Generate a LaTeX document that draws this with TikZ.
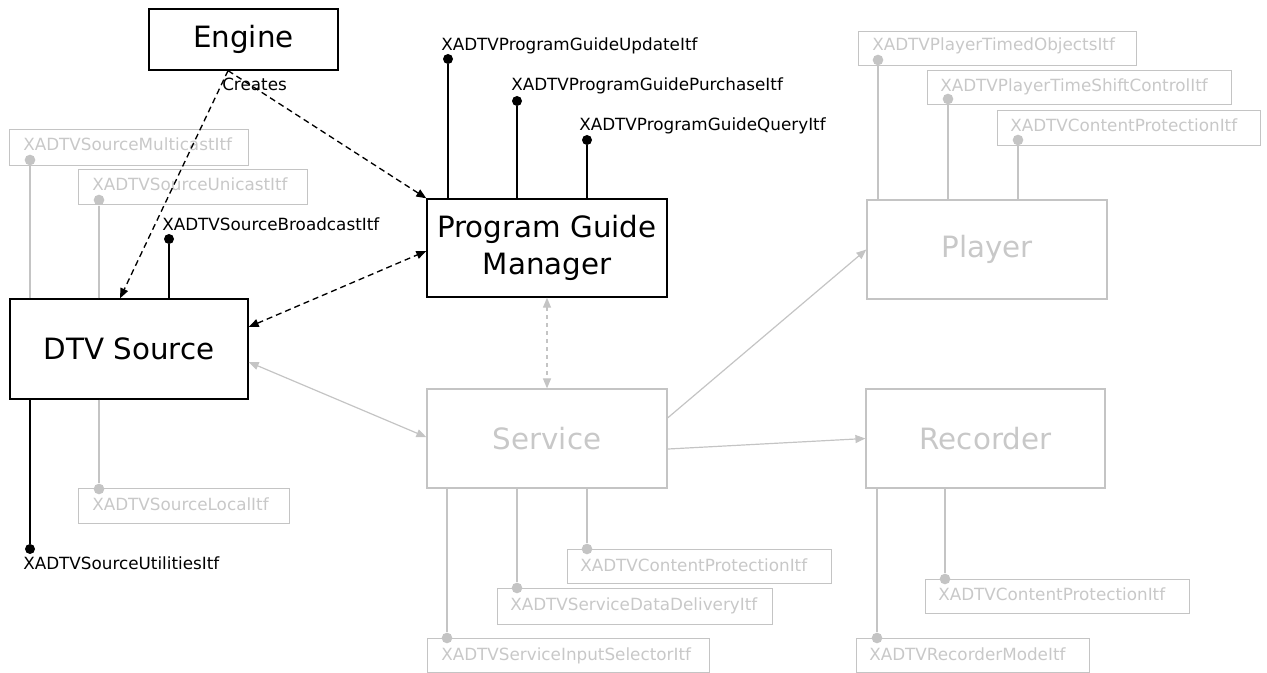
\documentclass[tikz,border=0pt]{standalone}
\usepackage{fontspec}
\setmainfont{DejaVu Sans}
\usetikzlibrary{arrows.meta}
\definecolor{lg}{RGB}{196,196,196}
\definecolor{lgt}{RGB}{200,200,200}
\begin{document}
\begin{tikzpicture}[x=0.75pt,y=-0.75pt,
 comp/.style={draw=black, line width=1pt, rectangle, inner sep=0pt, font=\fontsize{22}{27.5}\selectfont, align=center},
 gcomp/.style={comp, draw=lg, text=lgt, line width=0.9pt},
 ifbox/.style={draw=lg, line width=0.8pt, rectangle, inner sep=0pt, anchor=north west, minimum height=25.5pt},
 lbl/.style={font=\fontsize{12.6}{14}\selectfont, inner sep=0pt, anchor=base west},
 glbl/.style={lbl, text=lgt},
 ball/.style={circle, fill=black, inner sep=0pt, minimum size=7.5pt},
 gball/.style={circle, fill=lg, inner sep=0pt, minimum size=8pt},
 bl/.style={draw=black, line width=1pt},
 gl/.style={draw=lg, line width=0.9pt},
 darr/.style={bl, dash pattern=on 4.5pt off 3pt},
 >={Triangle[length=7.5pt,width=6pt]}
]
\useasboundingbox (0,0) rectangle (1267,673);

% main components
\node[comp, minimum width=141.75pt, minimum height=45.75pt] (eng) at (243.5,39.5) {Engine};
\node[comp, minimum width=178.5pt, minimum height=75pt] (dtv) at (129,349) {DTV Source};
\node[comp, minimum width=180pt, minimum height=73.5pt] (pgm) at (547,248) {Program Guide\\Manager};
\node[gcomp, minimum width=180pt, minimum height=74.25pt] (svc) at (547,438.5) {Service};
\node[gcomp, minimum width=180pt, minimum height=74.25pt] (ply) at (987,249.5) {Player};
\node[gcomp, minimum width=179.25pt, minimum height=74.25pt] (rec) at (985.5,438.5) {Recorder};

% gray interface boxes
\node[ifbox, minimum width=179.25pt, minimum height=27pt] (b1) at (9,129) {};
\node[ifbox, minimum width=171.75pt, minimum height=26.25pt] (b2) at (78,169) {};
\node[ifbox, minimum width=158.25pt, minimum height=26.25pt] (b3) at (78,488) {};
\node[ifbox, minimum width=208.5pt] (b4) at (858,31) {};
\node[ifbox, minimum width=228pt] (b5) at (927,70) {};
\node[ifbox, minimum width=197.25pt, minimum height=26.25pt] (b6) at (997,110) {};
\node[ifbox, minimum width=198pt] (b7) at (567,549) {};
\node[ifbox, minimum width=206.25pt, minimum height=27pt] (b8) at (497,588) {};
\node[ifbox, minimum width=211.5pt] (b9) at (427,638) {};
\node[ifbox, minimum width=198pt] (b10) at (925,579) {};
\node[ifbox, minimum width=174.75pt] (b11) at (856,638) {};

% gray balls
\node[gball] (g1) at (30,160) {};
\node[gball] (g2) at (99,200) {};
\node[gball] (g3) at (99,489) {};
\node[gball] (g4) at (878,60) {};
\node[gball] (g5) at (948,99) {};
\node[gball] (g6) at (1018,140) {};
\node[gball] (g7) at (587,549) {};
\node[gball] (g8) at (517,588) {};
\node[gball] (g9) at (447,638) {};
\node[gball] (g10) at (945,579) {};
\node[gball] (g11) at (877,638) {};

\draw[gl] (dtv.north -| g1) -- (g1);
\draw[gl] (dtv.north -| g2) -- (g2);
\draw[gl] (dtv.south -| g3) -- (g3);
\draw[gl] (ply.north -| g4) -- (g4);
\draw[gl] (ply.north -| g5) -- (g5);
\draw[gl] (ply.north -| g6) -- (g6);
\draw[gl] (svc.south -| g7) -- (g7);
\draw[gl] (svc.south -| g8) -- (g8);
\draw[gl] (svc.south -| g9) -- (g9);
\draw[gl] (rec.south -| g10) -- (g10);
\draw[gl] (rec.south -| g11) -- (g11);

% gray labels
\node[glbl] (t1) at (23,151) {XADTVSourceMulticastItf};
\node[glbl] (t2) at (92,191) {XADTVSourceUnicastItf};
\node[glbl] (t3) at (92,510) {XADTVSourceLocalItf};
\node[glbl] (t4) at (872,51) {XADTVPlayerTimedObjectsItf};
\node[glbl] (t5) at (940,92) {XADTVPlayerTimeShiftControlItf};
\node[glbl] (t6) at (1010,132) {XADTVContentProtectionItf};
\node[glbl] (t7) at (580,571) {XADTVContentProtectionItf};
\node[glbl] (t8) at (510,610) {XADTVServiceDataDeliveryItf};
\node[glbl] (t9) at (441,660) {XADTVServiceInputSelectorItf};
\node[glbl] (t10) at (938,600) {XADTVContentProtectionItf};
\node[glbl] (t11) at (869,660) {XADTVRecorderModeItf};

% black lollipops
\node[ball] (pu) at (448,59) {};
\node[ball] (pp) at (517,101) {};
\node[ball] (pq) at (587,140) {};
\node[ball] (sb) at (169,239) {};
\node[ball] (su) at (30,549) {};
\draw[bl] (pgm.north -| pu) -- (pu);
\draw[bl] (pgm.north -| pp) -- (pp);
\draw[bl] (pgm.north -| pq) -- (pq);
\draw[bl] (dtv.north -| sb) -- (sb);
\draw[bl] (dtv.south -| su) -- (su);
\node[lbl] (lpu) at (441,51) {XADTVProgramGuideUpdateItf};
\node[lbl] (lpp) at (511,91) {XADTVProgramGuidePurchaseItf};
\node[lbl] (lpq) at (579,131) {XADTVProgramGuideQueryItf};
\node[lbl] (lsb) at (162,231) {XADTVSourceBroadcastItf};
\node[lbl] (lsu) at (23,569) {XADTVSourceUtilitiesItf};

% connectors
\draw[darr, ->] ([xshift=-11.6pt]eng.south) -- ([xshift=-6.75pt]dtv.north);
\draw[darr, ->] ([xshift=-11.6pt]eng.south) -- (pgm.north west);
\node[lbl] (cr) at (222,91) {Creates};
\draw[darr, <->] ([yshift=16.5pt]dtv.east) -- ([yshift=-2.25pt]pgm.west);
\draw[gl, <->] ([yshift=-9.75pt]dtv.east) -- ([yshift=1pt]svc.west);
\draw[gl, dash pattern=on 3pt off 3pt, <->] (pgm.south) -- (svc.north);
\draw[gl, ->] ([yshift=15.4pt]svc.east) -- (ply.west);
\draw[gl, ->] ([yshift=-7.9pt]svc.east) -- (rec.west);
\end{tikzpicture}
\end{document}
